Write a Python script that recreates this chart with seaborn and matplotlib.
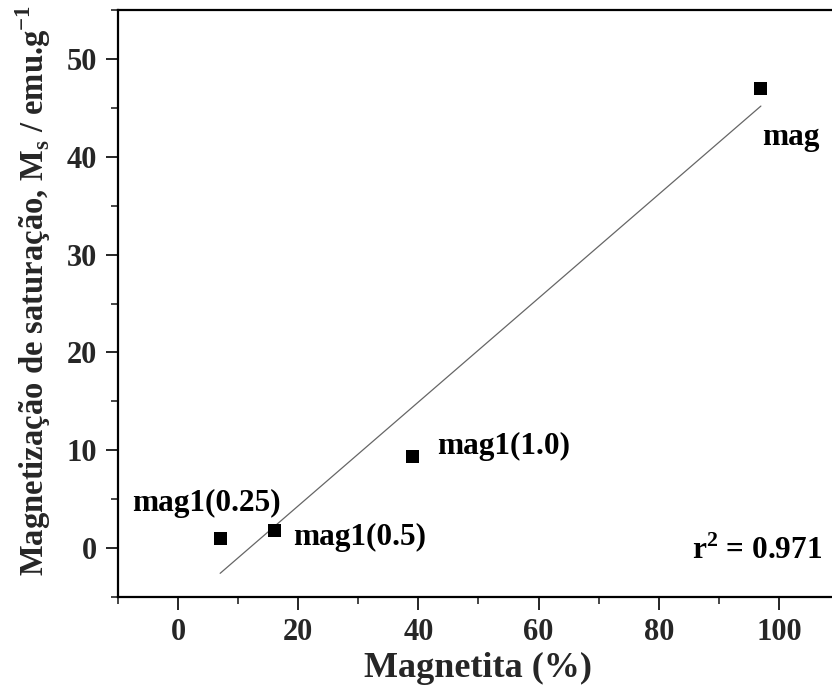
import matplotlib
matplotlib.use("Agg")
import matplotlib.pyplot as plt
import numpy as np
import pandas as pd
import seaborn as sns

# Saturation magnetisation versus magnetite content
samples = ["mag1(0.25)", "mag1(0.5)", "mag1(1.0)", "mag"]
magnetita = [7.0, 16.0, 39.0, 97.0]
ms = [1.0, 1.8, 9.4, 47.0]
x_ticks = [0, 20, 40, 60, 80, 100]
y_ticks = [0, 10, 20, 30, 40, 50]

df = pd.DataFrame({"Magnetita": magnetita, "Ms": ms, "amostra": samples})

sns.set_theme(style="ticks")
plt.rcParams["font.family"] = ["Liberation Serif", "DejaVu Serif"]
plt.rcParams["font.weight"] = "bold"
plt.rcParams["mathtext.fontset"] = "custom"
plt.rcParams["mathtext.rm"] = "Liberation Serif:bold"
plt.rcParams["mathtext.bf"] = "Liberation Serif:bold"

fig = plt.figure(figsize=(8.32, 6.93), dpi=100)
ax = fig.add_axes([118 / 832, 1 - 597 / 693, (839 - 118) / 832, (597 - 10) / 693])

sns.regplot(data=df, x="Magnetita", y="Ms", ax=ax, ci=None, truncate=True,
            marker="s",
            scatter_kws=dict(s=90, color="black", alpha=1, edgecolors="none", zorder=3),
            line_kws=dict(color="#666666", lw=0.9, zorder=2))

# goodness of fit for the linear regression
slope, intercept = np.polyfit(magnetita, ms, 1)
pred = slope * np.array(magnetita) + intercept
r2 = 1 - np.sum((np.array(ms) - pred) ** 2) / np.sum((np.array(ms) - np.mean(ms)) ** 2)

ax.set_xlim(-10, 110)
ax.set_ylim(-5, 55)
ax.set_xticks(x_ticks)
ax.set_yticks(y_ticks)
ax.set_xticks(np.arange(-10, 111, 10), minor=True)
ax.set_yticks(np.arange(-5, 56, 5), minor=True)

ax.tick_params(axis="both", which="major", direction="out", length=9, width=1.4,
               labelsize=22, pad=6)
ax.tick_params(axis="both", which="minor", direction="out", length=5, width=1.2)
ax.tick_params(axis="y", which="major", right=True, labelright=False)
ax.tick_params(axis="y", which="minor", right=False)
for lab in ax.get_xticklabels() + ax.get_yticklabels():
    lab.set_fontweight("bold")

for side in ["left", "bottom", "top", "right"]:
    ax.spines[side].set_visible(True)
    ax.spines[side].set_linewidth(1.6)
    ax.spines[side].set_color("black")

ax.set_xlabel("Magnetita (%)", fontsize=26, fontweight="bold", labelpad=4)
ax.set_ylabel(r"Magnetização de saturação, M$_\mathrm{s}$ / emu.g$^{\mathrm{-1}}$",
              fontsize=23.5, fontweight="bold")
ax.yaxis.set_label_coords(-0.090, 0.523)

label_kw = dict(fontsize=22.5, fontweight="bold", color="black")
ax.text(97.2, 42.0, "mag", ha="left", va="center", **label_kw)
ax.text(43.1, 10.4, "mag1(1.0)", ha="left", va="center", **label_kw)
ax.text(19.1, 1.1, "mag1(0.5)", ha="left", va="center", **label_kw)
ax.text(-7.65, 4.6, "mag1(0.25)", ha="left", va="center", **label_kw)
ax.text(107.2, -0.3, f"r$^2$ = {r2:.3f}", ha="right", va="center", **label_kw)

fig.savefig("out.png", dpi=100)
